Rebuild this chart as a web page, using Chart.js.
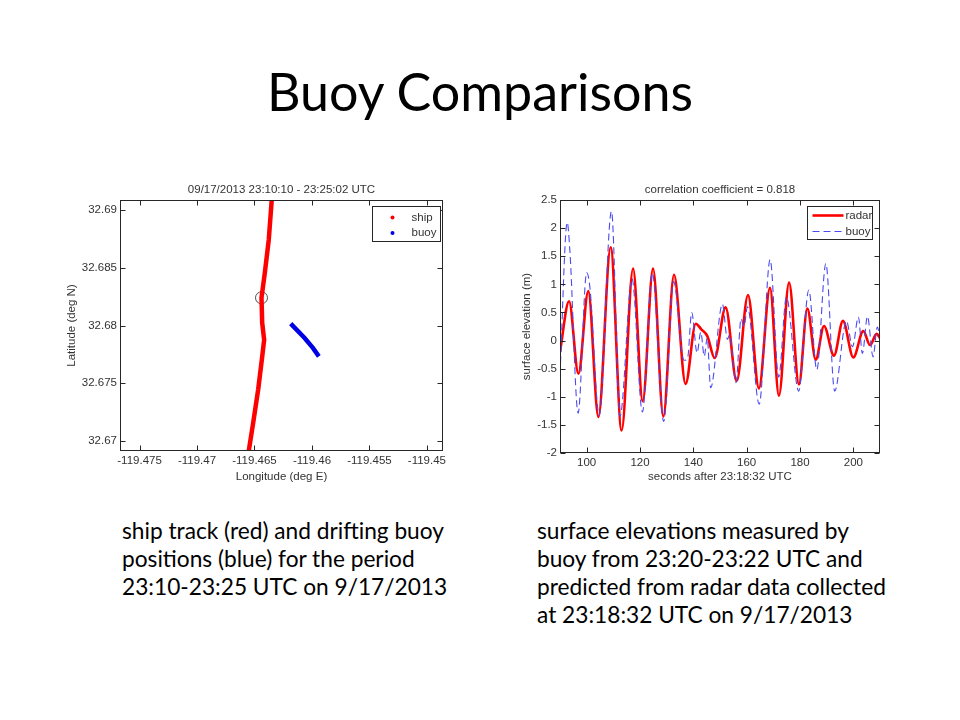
<!DOCTYPE html>
<html>
<head>
<meta charset="utf-8">
<script src="https://cdn.jsdelivr.net/npm/chart.js@4.4.1/dist/chart.umd.min.js"></script>
<style>
  body { margin: 0; width: 960px; height: 720px; background: #fff; position: relative; overflow: hidden; font-family: Lato, sans-serif; color: #000; }
  #title { position: absolute; left: 0; width: 960px; top: 61px; line-height: 60px; text-align: center; font-size: 52px; }
  .cap { position: absolute; font-size: 22.7px; line-height: 28px; white-space: pre; }
  canvas { position: absolute; }
</style>
</head>
<body>
<div id="title">Buoy Comparisons</div>
<canvas id="track" width="400" height="320" style="left:60px;top:175px"></canvas>
<canvas id="waves" width="400" height="320" style="left:500px;top:175px"></canvas>
<div class="cap" style="left:122px;top:517px">ship track (red) and drifting buoy
positions (blue) for the period
23:10-23:25 UTC on 9/17/2013</div>
<div class="cap" style="left:537px;top:517px">surface elevations measured by
buoy from 23:20-23:22 UTC and
predicted from radar data collected
at 23:18:32 UTC on 9/17/2013</div>
<script>
// left panel: positions
const shipLon = [-119.46350, -119.46376, -119.46410, -119.46439, -119.46433, -119.46416, -119.46433, -119.46468, -119.46511, -119.46549];
const shipLat = [32.69086, 32.68741, 32.68456, 32.68240, 32.68024, 32.67877, 32.67730, 32.67445, 32.67160, 32.66919];
const buoyLon = [-119.46185, -119.46064, -119.45992, -119.45940];
const buoyLat = [32.68016, 32.67892, 32.67806, 32.67733];
const markLon = [-119.46439];
const markLat = [32.68240];
const lonTicks = [-119.475, -119.47, -119.465, -119.46, -119.455, -119.45];
const lonLabels = ['-119.475', '-119.47', '-119.465', '-119.46', '-119.455', '-119.45'];
const latTicks = [32.67, 32.675, 32.68, 32.685, 32.69];
const latLabels = ['32.67', '32.675', '32.68', '32.685', '32.69'];

// right panel: surface elevation
const radarT = [90, 93.4, 96.9, 100.6, 104.4, 109, 113.1, 117.4, 121, 124.9, 128.75, 132.75, 137.1, 140.9, 143, 145.25, 148, 152.1, 156.25, 160.5, 164.6, 168.75, 172.1, 175.9, 179.6, 182.75, 185.9, 189, 192.75, 196.1, 200, 203.75, 206.25, 208.75, 210];
const radarH = [-0.2, 0.70, -0.59, 0.88, -1.36, 1.66, -1.60, 1.28, -1.08, 1.28, -1.35, 1.17, -0.77, 0.30, 0.20, 0.08, -0.31, 0.59, -0.72, 0.81, -0.85, 0.94, -0.98, 1.03, -0.78, 0.57, -0.34, 0.26, -0.27, 0.35, -0.30, 0.17, -0.08, 0.12, 0.04];
const buoyT = [90, 92.7, 93.7, 96.8, 100, 101.2, 104.7, 109.3, 112.5, 117, 120.9, 124.6, 128.9, 132.6, 136.5, 137.8, 139.4, 141.4, 142.8, 144.1, 145.2, 146.5, 150.9, 152.8, 153.6, 156, 157.9, 159, 160.3, 164.7, 168.8, 172, 174.9, 179.5, 183.3, 186.3, 189.7, 193, 197.4, 199.7, 201.9, 203.4, 205.3, 207.4, 209, 210];
const buoyH = [-0.6, 2.1, 1.6, -1.29, 1.21, 0.95, -1.33, 2.3, -1.35, 1.1, -1.27, 1.2, -1.44, 1.05, -0.35, -0.33, 0.5, -0.22, 0.15, -0.28, 0.05, -0.84, 0.65, 0.02, 0.1, -0.75, 0.39, 0.25, 0.6, -1.13, 1.44, -0.65, 0.77, -0.9, 0.9, -0.52, 1.37, -0.9, 0.35, -0.11, 0.42, -0.23, 0.43, -0.29, 0.24, 0.05];
const timeTicks = [100, 120, 140, 160, 180, 200];
const timeLabels = ['100', '120', '140', '160', '180', '200'];
const elevTicks = [-2, -1.5, -1, -0.5, 0, 0.5, 1, 1.5, 2, 2.5];
const elevLabels = ['-2', '-1.5', '-1', '-0.5', '0', '0.5', '1', '1.5', '2', '2.5'];

const textColor = '#333';
const fontFamily = '"Liberation Sans", Arial, sans-serif';
const axisFont = { family: fontFamily, size: 11.5 };

const pts = (xs, ys) => xs.map((x, i) => ({ x, y: ys[i] }));

// matlab-like box: frame, inward ticks, title and boxed legend
const matlabBox = {
  id: 'matlabBox',
  afterDatasetsDraw(chart, args, o) {
    const { ctx, chartArea: a } = chart;
    const sx = chart.scales.x, sy = chart.scales.y;
    ctx.save();
    ctx.strokeStyle = '#262626';
    ctx.lineWidth = 1;
    const l = Math.round(a.left) + 0.5, t = Math.round(a.top) + 0.5;
    const r = Math.round(a.right) - 0.5, b = Math.round(a.bottom) - 0.5;
    ctx.strokeRect(l, t, r - l, b - t);
    ctx.beginPath();
    sx.ticks.forEach(tk => {
      const p = Math.round(sx.getPixelForValue(tk.value)) + 0.5;
      ctx.moveTo(p, b); ctx.lineTo(p, b - 5);
      ctx.moveTo(p, t); ctx.lineTo(p, t + 5);
    });
    sy.ticks.forEach(tk => {
      const p = Math.round(sy.getPixelForValue(tk.value)) + 0.5;
      ctx.moveTo(l, p); ctx.lineTo(l + 5, p);
      ctx.moveTo(r, p); ctx.lineTo(r - 5, p);
    });
    ctx.stroke();

    ctx.fillStyle = textColor;
    ctx.font = '11.5px ' + fontFamily;
    ctx.textAlign = 'center';
    ctx.textBaseline = 'alphabetic';
    ctx.fillText(o.title, (a.left + a.right) / 2, a.top - 7);

    const L = o.legend;
    const bx = Math.round(a.right - L.right - L.width) + 0.5, by = Math.round(a.top + L.top) + 0.5;
    ctx.fillStyle = '#fff';
    ctx.fillRect(bx, by, L.width, L.height);
    ctx.strokeStyle = '#262626';
    ctx.lineWidth = 1;
    ctx.strokeRect(bx, by, L.width, L.height);
    chart.data.datasets.filter(d => d.inLegend).forEach((d, i) => {
      const cy = by + L.rowTop + i * L.rowGap;
      if (L.sample === 'dot') {
        ctx.fillStyle = d.borderColor;
        ctx.beginPath();
        ctx.arc(bx + L.sampleX, cy, 2, 0, Math.PI * 2);
        ctx.fill();
      } else {
        ctx.strokeStyle = d.borderColor;
        ctx.lineWidth = d.borderWidth;
        ctx.setLineDash(d.borderDash || []);
        ctx.beginPath();
        ctx.moveTo(bx + L.sampleX, cy);
        ctx.lineTo(bx + L.sampleEnd, cy);
        ctx.stroke();
        ctx.setLineDash([]);
      }
      ctx.fillStyle = textColor;
      ctx.textAlign = 'left';
      ctx.textBaseline = 'middle';
      ctx.fillText(d.label, bx + L.textX, cy);
    });
    ctx.restore();
  }
};

function axis(min, max, ticks, labels, title, fit, titlePad) {
  return {
    type: 'linear',
    min, max,
    afterBuildTicks: s => { s.ticks = ticks.map(v => ({ value: v })); },
    afterFit: s => {
      if (s.isHorizontal()) s.height = fit; else s.width = fit;
      s.paddingLeft = 0; s.paddingRight = 0; s.paddingTop = 0; s.paddingBottom = 0;
    },
    ticks: {
      callback: (v, i) => labels[i],
      font: axisFont,
      color: textColor,
      padding: 3,
      maxRotation: 0,
      autoSkip: false
    },
    grid: { display: false, drawTicks: false },
    border: { display: false },
    title: { display: true, text: title, font: axisFont, color: textColor, padding: titlePad }
  };
}

new Chart(document.getElementById('track'), {
  type: 'scatter',
  data: {
    datasets: [
      { label: 'ship', inLegend: true, data: pts(shipLon, shipLat), showLine: true, borderColor: '#ff0000', backgroundColor: '#ff0000', borderWidth: 4.5, pointRadius: 0, clip: 0 },
      { label: 'buoy', inLegend: true, data: pts(buoyLon, buoyLat), showLine: true, borderColor: '#0000e6', backgroundColor: '#0000e6', borderWidth: 4.5, pointRadius: 0, clip: 0 },
      { label: 'closest', data: pts(markLon, markLat), pointRadius: 6, pointStyle: 'circle', borderColor: '#222', borderWidth: 0.8, backgroundColor: 'rgba(0,0,0,0)' }
    ]
  },
  options: {
    responsive: false,
    animation: false,
    layout: { padding: { top: 25, right: 17, left: 0, bottom: 0 } },
    plugins: {
      legend: { display: false },
      tooltip: { enabled: false },
      matlabBox: {
        title: '09/17/2013 23:10:10 - 23:25:02 UTC',
        legend: { right: 3, top: 6, width: 68, height: 35, sample: 'dot', sampleX: 20, textX: 39, rowTop: 11, rowGap: 15.5 }
      }
    },
    scales: {
      x: axis(-119.4767, -119.4486, lonTicks, lonLabels, 'Longitude (deg E)', 44, { top: 0, bottom: 11.1 }),
      y: axis(32.66913, 32.69087, latTicks, latLabels, 'Latitude (deg N)', 60, { top: 5.1, bottom: 0 })
    }
  },
  plugins: [matlabBox]
});

new Chart(document.getElementById('waves'), {
  type: 'scatter',
  data: {
    datasets: [
      { label: 'radar', inLegend: true, order: 1, data: pts(radarT, radarH), showLine: true, cubicInterpolationMode: 'monotone', borderColor: '#ff0000', borderWidth: 2.6, pointRadius: 0, clip: 0 },
      { label: 'buoy', inLegend: true, order: 0, data: pts(buoyT, buoyH), showLine: true, cubicInterpolationMode: 'monotone', borderColor: '#4a4af2', borderWidth: 1.1, borderDash: [7, 4], pointRadius: 0, clip: 0 }
    ]
  },
  options: {
    responsive: false,
    animation: false,
    layout: { padding: { top: 25, right: 20, left: 0, bottom: 0 } },
    plugins: {
      legend: { display: false },
      tooltip: { enabled: false },
      matlabBox: {
        title: 'correlation coefficient = 0.818',
        legend: { right: 8, top: 6, width: 65, height: 33, sample: 'line', sampleX: 5, sampleEnd: 36, textX: 38, rowTop: 9, rowGap: 16 }
      }
    },
    scales: {
      x: axis(90, 210, timeTicks, timeLabels, 'seconds after 23:18:32 UTC', 42, { top: 0, bottom: 11.1 }),
      y: axis(-2, 2.5, elevTicks, elevLabels, 'surface elevation (m)', 60, { top: 20.1, bottom: 0 })
    }
  },
  plugins: [matlabBox]
});
</script>
</body>
</html>
